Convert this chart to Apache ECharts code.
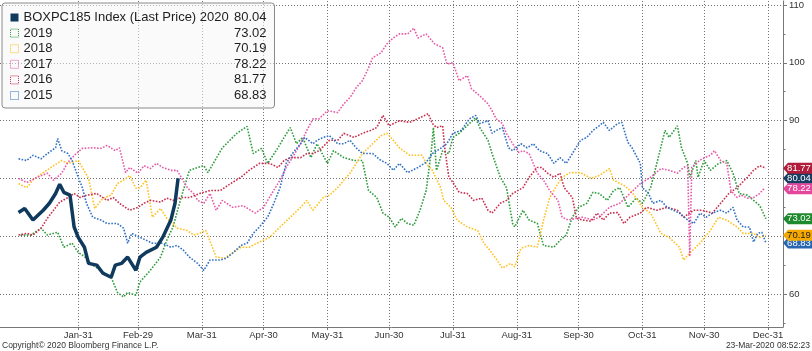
<!DOCTYPE html>
<html>
<head>
<meta charset="utf-8">
<script src="https://cdn.jsdelivr.net/npm/echarts@6/dist/echarts.min.js"></script>
<style>
  html, body { margin: 0; padding: 0; background: #fff; }
  #chart { width: 812px; height: 351px; }
</style>
</head>
<body>
<div id="chart"></div>
<script>
// x = day of year (0 = Jan-01), month-end gridlines
const xTickDays = [30, 59, 90, 120, 151, 181, 212, 243, 273, 304, 334, 365];
const xTickLabels = ['Jan-31', 'Feb-29', 'Mar-31', 'Apr-30', 'May-31', 'Jun-30', 'Jul-31', 'Aug-31', 'Sep-30', 'Oct-31', 'Nov-30', 'Dec-31'];
const yTickValues = [60, 70, 80, 90, 100, 110];
const yMinorTicks = [55, 65, 75, 85, 95, 105];

const seriesNames = ['BOXPC185 Index (Last Price) 2020', '2019', '2018', '2017', '2016', '2015'];
const lastValues = [80.04, 73.02, 70.19, 78.22, 81.77, 68.83];

// [day, price]
const s2020 = [[1,74.1],[4,74.8],[8,72.8],[13,74.5],[16,75.7],[19,77.4],[21,79.0],[23,77.6],[26,77.1],[28,71.6],[30,69.8],[33,68.1],[35,65.3],[39,65.0],[42,63.6],[46,62.9],[48,65.0],[51,65.3],[54,66.4],[58,64.1],[60,66.4],[63,67.2],[68,68.1],[71,69.8],[75,72.8],[77,75.7],[78.5,80.04]];
const s2019 = [[2,70.2],[7,70.2],[12,71.4],[15,70.2],[20,70.7],[23,68.1],[27,68.8],[30,67.2],[33,66.5],[37,65.0],[41,64.1],[46,62.9],[49,60.3],[52,59.5],[54,60.3],[58,59.8],[60,62.1],[65,64.1],[70,66.4],[73,69.3],[76,71.6],[80,76.7],[84,81.4],[88,81.9],[91,82.2],[93,81.0],[100,85.3],[107,87.8],[112,89.0],[115,84.3],[119,85.2],[122,82.6],[127,85.3],[130,87.1],[133,88.8],[136,86.0],[139,87.1],[143,83.6],[146,86.0],[151,82.6],[154,84.8],[159,83.6],[164,83.1],[168,83.1],[171,77.9],[175,76.7],[178,74.0],[181,73.3],[184,71.6],[187,73.1],[190,72.2],[193,71.9],[196,74.5],[199,77.9],[201.5,84.8],[202.5,88.8],[204,81.4],[207,84.8],[210,84.3],[212,87.1],[215,87.8],[220,89.5],[223,90.5],[225,88.8],[229,86.6],[231,84.3],[235,80.2],[238,78.4],[241,72.2],[242,71.6],[246,74.5],[249,72.8],[253,72.2],[256,68.4],[261,68.1],[264,69.3],[267,70.2],[270,73.3],[273,75.0],[277,75.7],[280,77.6],[283,77.4],[287,76.2],[290,77.9],[293,78.4],[297,75.0],[301,76.6],[304,75.7],[308,78.4],[311,82.6],[315,88.3],[317,87.1],[321,89.1],[323,85.3],[326,82.6],[327,80.2],[330,83.1],[331,80.2],[334,83.1],[337,81.4],[341,82.6],[345,83.1],[348,80.9],[351,77.4],[355,77.1],[358,76.2],[361,75.3],[364,73.02]];
const s2018 = [[1,79.1],[5,78.4],[8,79.7],[13,81.0],[18,82.2],[22,83.1],[25,82.6],[30,83.1],[32,81.9],[35,80.0],[38,74.8],[42,76.6],[46,77.1],[49,79.1],[52,79.7],[55,80.5],[58,78.3],[60,78.4],[63,79.7],[66,73.3],[70,74.8],[73,73.1],[76,72.2],[78,71.4],[83,71.0],[86,70.2],[89,70.5],[92,71.0],[97,66.4],[101,66.2],[105,67.1],[109,68.1],[113,68.1],[118,69.0],[123,69.8],[128,71.6],[133,73.3],[138,75.0],[141,76.2],[144,74.5],[149,76.7],[152,77.1],[156,78.4],[159,79.7],[162,80.9],[165,82.6],[168,84.3],[173,86.0],[177,87.4],[180,87.8],[183,86.6],[186,85.3],[191,84.0],[197,84.0],[199,82.6],[202,81.4],[206,78.4],[207.5,76.2],[211,75.0],[214,72.8],[219,71.6],[224,71.0],[227,68.8],[231,67.1],[236,64.5],[240,65.3],[242,64.7],[245,67.9],[249,68.4],[253,68.1],[256,72.8],[259,76.7],[263,79.1],[265,80.2],[269,81.0],[274,81.0],[279,80.0],[283,80.5],[288,81.7],[290,79.7],[295,78.8],[299,77.6],[304,75.0],[308,74.0],[313,70.5],[317,69.8],[322,68.1],[324,65.9],[327,67.1],[332,68.8],[337,71.0],[341,73.3],[345,72.8],[350,71.6],[353,70.5],[358,70.5],[361,69.8],[364,70.19]];
const s2017 = [[1,80.0],[5,79.3],[10,80.2],[15,80.9],[18,79.7],[22,80.9],[25,82.8],[29,84.3],[32,85.2],[37,85.3],[41,85.2],[44,85.7],[48,84.8],[50,85.3],[53,81.0],[55,81.9],[59,80.9],[62,82.2],[65,81.7],[68,82.6],[71,81.9],[75,81.4],[78,81.4],[80,80.2],[83,78.4],[86,77.4],[88,76.2],[91,75.7],[94,77.4],[97,74.5],[100,76.2],[105,75.0],[110,75.3],[116,74.0],[120,75.0],[124,77.4],[128,79.7],[131,81.9],[134,83.6],[138,86.0],[141,88.3],[144,90.3],[147,90.3],[151,91.7],[156,91.4],[159,92.9],[162,94.0],[165,95.7],[168,96.9],[171,99.1],[173,100.9],[177,101.7],[180,103.3],[183,104.3],[186,105.0],[190,105.0],[193,106.0],[195,104.3],[199,105.0],[203,103.3],[207,102.6],[209,99.8],[212,100.0],[215,96.9],[219,97.8],[221,95.5],[225,94.3],[229,92.9],[231,91.7],[233,90.3],[236,89.5],[238,87.8],[241,86.0],[244,84.5],[246,84.8],[249,84.3],[253,80.9],[256,79.7],[259,77.9],[263,76.2],[265,73.3],[268,72.8],[272,73.1],[275,73.3],[280,72.8],[283,73.3],[288,75.0],[293,75.7],[298,77.4],[303,79.1],[308,80.2],[313,81.7],[317,81.4],[321,80.9],[324,81.9],[326,82.2],[327,66.5],[328,81.9],[330,82.6],[333,83.4],[337,84.0],[339,84.8],[342,83.1],[345,82.6],[347,77.9],[350,76.7],[352,77.1],[355,76.6],[358,76.7],[361,77.4],[363,78.22]];
const s2016 = [[1,70.2],[5,70.5],[8,70.2],[12,71.4],[15,73.1],[18,74.5],[21,75.9],[25,76.7],[28,77.4],[31,76.7],[34,77.1],[39,77.4],[44,76.2],[47,76.7],[50,75.7],[55,74.5],[59,75.0],[62,75.7],[65,76.2],[70,75.9],[73,76.6],[76,76.2],[80,76.7],[84,76.7],[89,77.4],[94,77.9],[99,77.9],[104,79.1],[109,80.2],[113,81.4],[118,82.6],[123,82.6],[127,81.9],[130,83.1],[133,83.6],[138,83.6],[141,84.3],[144,84.3],[147,84.8],[152,86.6],[156,86.6],[159,87.8],[164,87.1],[168,87.8],[172,88.3],[175,88.8],[178,90.9],[181,89.1],[186,90.0],[191,89.7],[196,90.5],[200,91.2],[202,89.5],[204,88.8],[207,89.1],[208,85.3],[210,80.2],[212,79.3],[215,77.6],[219,77.4],[222,76.2],[226,76.6],[229,74.5],[231,74.0],[235,75.7],[238,76.2],[241,77.4],[246,78.4],[249,80.2],[253,81.9],[255,81.9],[258,80.9],[261,80.2],[264,80.9],[266,78.4],[270,76.7],[272,73.1],[275,72.8],[279,72.6],[282,74.0],[285,72.8],[288,74.0],[292,74.1],[295,72.2],[298,73.3],[303,74.0],[306,75.0],[311,74.5],[316,75.0],[321,74.5],[324,73.3],[329,74.5],[333,74.5],[338,74.0],[342,75.7],[346,77.4],[350,78.4],[355,80.2],[358,81.4],[361,82.2],[364,81.77]];
const s2015 = [[1,83.4],[5,83.1],[8,84.0],[12,83.4],[15,84.3],[19,85.3],[20,86.9],[22,84.8],[25,84.3],[27,83.1],[30,80.2],[32,78.4],[34,75.7],[37,73.3],[41,72.8],[44,72.2],[49,72.2],[52,71.4],[54,68.8],[56,70.5],[60,69.8],[63,69.3],[66,68.8],[71,68.8],[75,68.1],[78,68.4],[81,67.6],[84,66.4],[88,65.3],[91,64.1],[94,65.9],[99,65.9],[102,66.2],[105,67.1],[109,68.4],[112,68.8],[115,70.5],[118,71.6],[122,73.3],[125,75.7],[128,78.4],[131,82.6],[134,84.3],[138,86.0],[140,87.1],[144,86.0],[146,86.6],[149,87.1],[152,87.4],[156,86.0],[159,86.0],[162,86.6],[165,85.3],[168,84.3],[173,84.3],[177,83.1],[180,82.6],[183,81.4],[186,82.6],[190,81.0],[195,81.9],[199,82.8],[202,84.3],[206,85.2],[209,86.0],[212,87.8],[216,88.3],[220,90.3],[223,90.9],[225,89.5],[229,90.0],[231,87.8],[233,88.3],[236,88.8],[239,85.3],[241,84.8],[245,86.0],[248,85.3],[251,86.0],[254,84.8],[258,84.3],[261,82.6],[264,83.6],[267,82.6],[270,84.3],[274,86.6],[277,87.1],[280,88.3],[283,89.1],[285,89.7],[288,88.3],[292,89.5],[294,89.7],[297,86.2],[299,85.3],[303,82.6],[304,78.4],[307,77.4],[309,75.7],[313,76.2],[316,75.0],[319,74.5],[322,74.0],[326,72.8],[329,72.2],[332,74.0],[335,73.3],[338,74.0],[342,74.5],[345,74.0],[348,75.0],[350,72.8],[353,71.6],[356,71.6],[358,69.0],[360,70.5],[362,70.7],[364,68.83]];

const seriesData = [s2020, s2019, s2018, s2017, s2016, s2015];

const lineColors = ['#0f3a5e', '#2f9b3c', '#ffc125', '#e65aa8', '#c82d4c', '#3170c2'];
const tagColors = ['#173d62', '#1d8a2e', '#f5a800', '#e2479c', '#b01c3c', '#2866b0'];
const tagText = ['#fff', '#fff', '#222', '#fff', '#fff', '#fff'];

const X_MIN = -8, X_MAX = 372.3;
const Y_MIN = 54.3, Y_MAX = 110.7;

const chart = echarts.init(document.getElementById('chart'));

const gridLine = { color: '#707070', type: [1, 2], width: 1 };
const labelFont = { fontFamily: 'Liberation Sans', fontSize: 9.5, color: '#333' };

const series = seriesData.map((data, i) => ({
  name: seriesNames[i],
  type: 'line',
  data: data,
  showSymbol: false,
  symbol: 'none',
  silent: true,
  z: i === 0 ? 4 : 2,
  lineStyle: i === 0
    ? { color: lineColors[i], width: 3.5 }
    : { color: lineColors[i], width: 1.6, type: [1.6, 1.5] },
  itemStyle: { color: lineColors[i] },
  markPoint: {
    z: i === 5 ? 4 : 5,
    symbol: 'path://M0,5 L5,0 L30,0 L30,10 L5,10 Z',
    symbolSize: [30, 11],
    symbolOffset: [15, 0],
    silent: true,
    data: [{ coord: [X_MAX, lastValues[i]], value: lastValues[i] }],
    itemStyle: { color: tagColors[i] },
    label: {
      show: true,
      position: 'inside',
      offset: [1, 0],
      formatter: p => p.value.toFixed(2),
      fontFamily: 'Liberation Sans',
      fontSize: 9.5,
      color: tagText[i]
    }
  }
}));

const option = {
  animation: false,
  grid: { left: 0, right: 29, top: 0, bottom: 24, containLabel: false },
  xAxis: {
    type: 'value',
    min: X_MIN,
    max: X_MAX,
    axisLine: { show: true, onZero: false, lineStyle: { color: '#777' } },
    axisTick: { show: true, customValues: xTickDays, length: 3, lineStyle: { color: '#777' } },
    axisLabel: {
      customValues: xTickDays,
      formatter: v => xTickLabels[xTickDays.indexOf(v)],
      margin: 3,
      ...labelFont
    },
    splitLine: { show: true, lineStyle: gridLine }
  },
  yAxis: [
    {
      type: 'value',
      position: 'right',
      min: Y_MIN,
      max: Y_MAX,
      axisLine: { show: true, onZero: false, lineStyle: { color: '#777' } },
      axisTick: { show: true, customValues: yTickValues, length: 4, lineStyle: { color: '#777' } },
      axisLabel: { customValues: yTickValues, margin: 6, ...labelFont },
      splitLine: { show: true, lineStyle: gridLine }
    },
    {
      // minor ticks only
      type: 'value',
      position: 'right',
      min: Y_MIN,
      max: Y_MAX,
      axisLine: { show: false, onZero: false },
      axisTick: { show: true, customValues: yMinorTicks, length: 2.5, lineStyle: { color: '#777' } },
      axisLabel: { show: false },
      splitLine: { show: false }
    }
  ],
  legend: {
    orient: 'vertical',
    left: 2,
    top: 3,
    padding: [8, 8, 6, 8],
    itemWidth: 8,
    itemHeight: 8,
    itemGap: 2.6,
    selectedMode: false,
    borderColor: '#8a8a8a',
    borderWidth: 1,
    borderRadius: 3,
    backgroundColor: 'rgba(246,246,246,0.5)',
    data: seriesNames.map((name, i) => ({
      name: name,
      icon: 'rect',
      itemStyle: i === 0
        ? { color: lineColors[i], borderWidth: 0 }
        : { color: 'rgba(255,255,255,0)', borderColor: lineColors[i], borderWidth: 1, borderType: [1, 1] }
    })),
    formatter: name => '{n|' + name + '}{v|' + lastValues[seriesNames.indexOf(name)].toFixed(2) + '}',
    textStyle: {
      fontFamily: 'Liberation Sans',
      fontSize: 13,
      color: '#1e1e1e',
      rich: {
        n: { width: 205, fontFamily: 'Liberation Sans', fontSize: 13, lineHeight: 14, color: '#1e1e1e' },
        v: { width: 38, align: 'right', fontFamily: 'Liberation Sans', fontSize: 13, lineHeight: 14, color: '#1e1e1e' }
      }
    }
  },
  graphic: [
    {
      type: 'text', left: 2, bottom: 1,
      style: { text: 'Copyright\u00a9 2020 Bloomberg Finance L.P.', font: '8.5px "Liberation Sans"', fill: '#333' }
    },
    {
      type: 'text', right: 2, bottom: 1,
      style: { text: '23-Mar-2020 08:52:23', font: '8.5px "Liberation Sans"', fill: '#333' }
    }
  ],
  series: series
};

chart.setOption(option);
</script>
</body>
</html>
